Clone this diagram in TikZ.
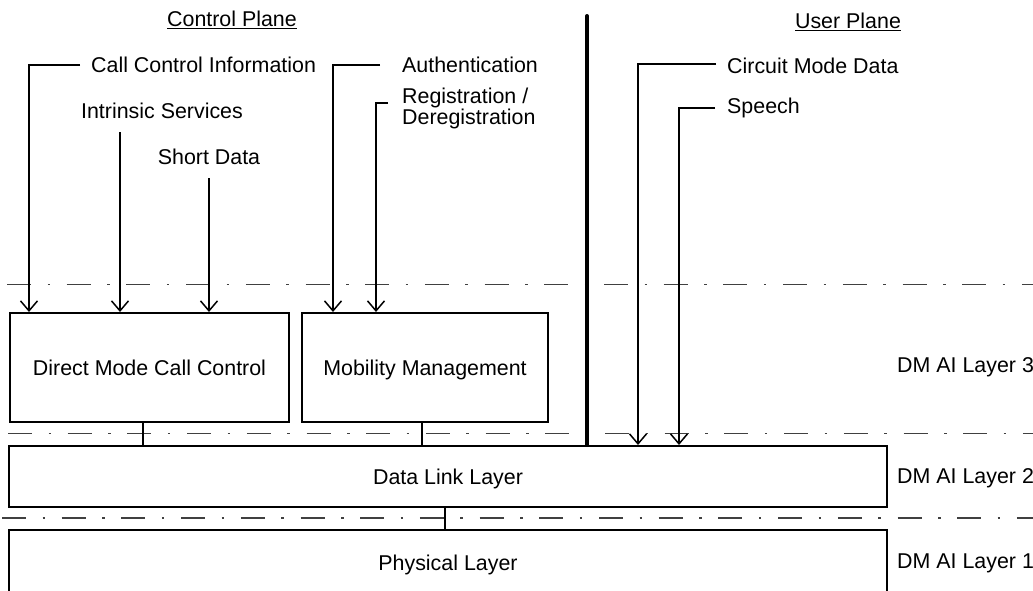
\documentclass[tikz,border=0pt]{standalone}
\usepackage{fontspec}
\setmainfont{Liberation Sans}
\usetikzlibrary{arrows.meta,calc}
\begin{document}
\begin{tikzpicture}[x=1pt,y=-1pt,
  every node/.style={font=\fontsize{21.4}{25}\selectfont, inner sep=0pt},
  blk/.style={draw, line width=2pt, text depth=0pt},
  arr/.style={line width=1.5pt, -{Straight Barb[length=10pt,width=17pt,line width=1.5pt]}},
  wire/.style={line width=1.5pt},
  plane/.style={line width=4pt},
  ddl/.style={line width=1.1pt, black!75, dash pattern=on 24pt off 16.5pt on 2.5pt off 16.7pt}]
\useasboundingbox (0,0) rectangle (1033,590);

% layer separators
\draw[ddl] (7,284.5) -- (1033,284.5);
\draw[ddl] (8,433.7) -- (1033,433.7);
\draw[ddl] (2,518) -- (1033,518);

% boxes
\node[blk, minimum width=279pt, minimum height=109pt] (dmcc) at (149.5,367.5) {Direct Mode Call Control};
\node[blk, minimum width=246pt, minimum height=109pt] (mm) at (425,367.5) {Mobility Management};
\node[blk, minimum width=878pt, minimum height=61pt] (dll) at (448,476.5) {Data Link Layer};
\node[blk, minimum width=878pt, minimum height=66pt] (phy) at (448,563) {Physical Layer};

% plane titles
\node (cp) at (232,20) {\underline{Control Plane}};
\node (up) at (848,22) {\underline{User Plane}};

% service labels
\node[anchor=west] (cci) at (91,65) {Call Control Information};
\node (isv) at (162,111) {Intrinsic Services};
\node (sd) at (209,157) {Short Data};
\node[anchor=west] (auth) at (402,65) {Authentication};
\node[anchor=west, align=left, font=\fontsize{21.4}{19.5}\selectfont] (reg) at (402,108) {Registration /\\Deregistration};
\node[anchor=west] (cmd) at (727,66) {Circuit Mode Data};
\node[anchor=west] (sp) at (727,108) {Speech};

% layer labels
\node[anchor=west] (l3) at (897,367) {DM AI Layer 3};
\node[anchor=west] (l2) at (897,478) {DM AI Layer 2};
\node[anchor=west] (l1) at (897,563) {DM AI Layer 1};

% control plane arrows
\draw[arr] ([xshift=-11pt]cci.west) -| ([xshift=20pt]dmcc.north west);
\coordinate (isvS) at (120,132);
\draw[arr] (isvS) -- (isvS |- dmcc.north);
\coordinate (sdS) at (209,178);
\draw[arr] (sdS) -- (sdS |- dmcc.north);
\draw[arr] ([xshift=-22pt]auth.west) -| ([xshift=32pt]mm.north west);
\draw[arr] ([xshift=-14pt,yshift=5pt]reg.west) -| ([xshift=75pt]mm.north west);

% user plane arrows
\draw[arr] ([xshift=-11pt,yshift=2pt]cmd.west) -| ([xshift=630pt]dll.north west);
\draw[arr] ([xshift=-12pt]sp.west) -| ([xshift=671pt]dll.north west);

% plane separator
\coordinate (ptop) at (587,16);
\draw[plane, line cap=round] (ptop) -- (ptop |- dll.north);

% inter-layer links
\coordinate (c1) at ([xshift=-6.5pt]dmcc.south);
\draw[wire] (c1) -- (c1 |- dll.north);
\coordinate (c2) at ([xshift=-3pt]mm.south);
\draw[wire] (c2) -- (c2 |- dll.north);
\coordinate (c3) at ([xshift=-3pt]dll.south);
\draw[wire] (c3) -- (c3 |- phy.north);
\end{tikzpicture}
\end{document}
